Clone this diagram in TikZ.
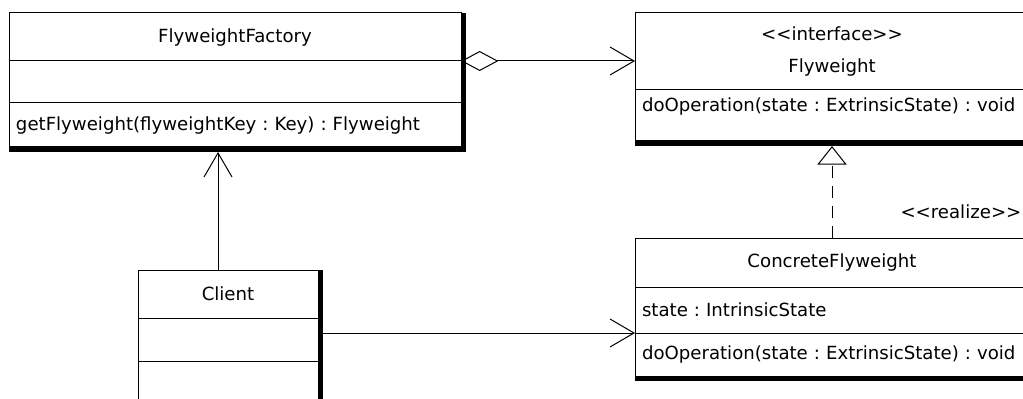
\documentclass[tikz,border=0pt]{standalone}
\usepackage{fontspec}
\usepackage{tikz}
\usetikzlibrary{positioning,arrows.meta}

\newfontfamily\umlfont{DejaVu Sans}
\newcommand{\pix}{0.75pt}
\frenchspacing

\begin{document}
\begin{tikzpicture}[x=\pix,y=-\pix,node distance=0pt,line width=\pix,>={Straight Barb[length=18pt,width=21pt]}]

  \tikzstyle{part}=[draw,outer sep=0pt,inner xsep=7*\pix,inner ysep=0pt,font=\umlfont\fontsize{13.6}{16}\selectfont]
  \tikzstyle{namepart}=[part,align=center]
  \tikzstyle{memberpart}=[part,align=left]
  \tikzstyle{stereo}=[anchor=west,inner sep=0pt,font=\umlfont\fontsize{13.6}{16}\selectfont]

  \useasboundingbox (0,0) rectangle (1023,399);

  % FlyweightFactory
  \node[namepart,anchor=north west,minimum width=452*\pix,minimum height=48*\pix] (factory-title) at (9,13) {FlyweightFactory};
  \node[memberpart,text width=438*\pix,minimum height=42*\pix] (factory-attrs) [below=of factory-title] {};
  \node[memberpart,text width=438*\pix,minimum height=44*\pix] (factory-ops) [below=of factory-attrs] {getFlyweight(flyweightKey : Key) : Flyweight};

  % Flyweight
  \node[namepart,anchor=north west,minimum width=394*\pix,minimum height=77*\pix] (flyweight-title) at (635,13) {<<interface>>\\[8pt]Flyweight};
  \node[memberpart,text width=380*\pix,minimum height=51*\pix,text depth=16pt] (flyweight-ops) [below=of flyweight-title] {doOperation(state : ExtrinsicState) : void};

  % ConcreteFlyweight
  \node[namepart,anchor=north west,minimum width=394*\pix,minimum height=49*\pix] (concrete-title) at (635,238) {ConcreteFlyweight};
  \node[memberpart,text width=380*\pix,minimum height=46*\pix] (concrete-attrs) [below=of concrete-title] {state : IntrinsicState};
  \node[memberpart,text width=380*\pix,minimum height=43*\pix] (concrete-ops) [below=of concrete-attrs] {doOperation(state : ExtrinsicState) : void};

  % Client
  \node[namepart,anchor=north west,minimum width=180*\pix,minimum height=48*\pix] (client-title) at (138,270) {Client};
  \node[memberpart,text width=166*\pix,minimum height=43*\pix] (client-attrs) [below=of client-title] {};
  \node[memberpart,text width=166*\pix,minimum height=60*\pix] (client-ops) [below=of client-attrs] {};

  % thick right and bottom edges
  \foreach \c in {factory,flyweight,concrete,client} {
    \fill (\c-title.north east) rectangle ([shift={(5,5)}]\c-ops.south east);
    \fill (\c-ops.south west) rectangle ([shift={(5,5)}]\c-ops.south east);
  }

  % relations
  \draw[{Diamond[open,length=28pt,width=15pt]}->] (factory-title.south east) -- (flyweight-title.west |- factory-title.south east);
  \coordinate (client-up) at ([shift={(-10,0)}]client-title.north);
  \draw[->] (client-up) -- ([shift={(0,5)}]client-up |- factory-ops.south);
  \draw[->] ([shift={(5,0)}]client-title.east |- concrete-attrs.south) -- (concrete-attrs.south west);
  \draw[-{Triangle[open,length=14pt,width=22pt]},dash pattern=on 9pt off 6pt] (concrete-title.north) -- ([shift={(0,5)}]flyweight-ops.south);

  \node[stereo] (realize-tag) at (900,212) {<<realize>>};

\end{tikzpicture}
\end{document}
